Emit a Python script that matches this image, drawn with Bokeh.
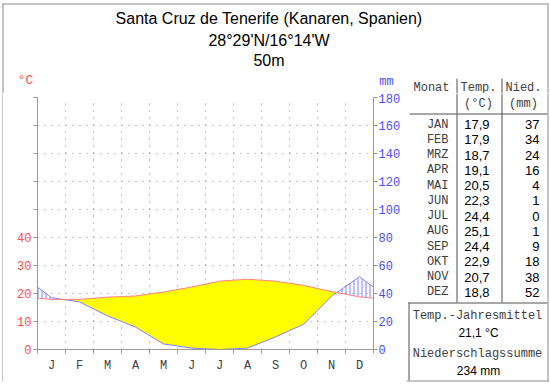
import numpy as np
from bokeh.plotting import figure
from bokeh.models import Range1d, LinearAxis, FixedTicker, CustomJSTickFormatter
from bokeh.layouts import column, row
from bokeh.core.properties import value
from bokeh.embed import file_html
from bokeh.resources import INLINE

# ---------------- data ----------------
month_letters = ["J", "F", "M", "A", "M", "J", "J", "A", "S", "O", "N", "D"]
month_abbr = ["JAN", "FEB", "MRZ", "APR", "MAI", "JUN", "JUL", "AUG", "SEP", "OKT", "NOV", "DEZ"]
temps = [17.9, 17.9, 18.7, 19.1, 20.5, 22.3, 24.4, 25.1, 24.4, 22.9, 20.7, 18.8]
precs = [37, 34, 24, 16, 4, 1, 0, 1, 9, 18, 38, 52]
temp_ticks = [0, 10, 20, 30, 40, 50, 60, 70, 80, 90]
prec_ticks = [0, 20, 40, 60, 80, 100, 120, 140, 160, 180]
title_lines = ["Santa Cruz de Tenerife (Kanaren, Spanien)", "28°29'N/16°14'W", "50m"]
table_headers = ["Monat", "Temp.", "(°C)", "Nied.", "(mm)"]
summary_labels = ["Temp.-Jahresmittel", "Niederschlagssumme"]

# ---------------- style / layout constants ----------------
W, H = 550, 384
HH = 93          # height of the heading strip
XT = 406         # x where the table strip begins
XL = 3           # width of the left border strip
YB = 380         # y where the bottom border strip begins (chart column)
MONO = "Liberation Mono"
SANS = "Liberation Sans"
RED = "#ff4d4d"
BLUE = "#4d4dff"
AXIS = "#9a9a9a"
RULE = "#505050"
FRAME = "#8a8a8a"
DARK = "#404040"


def strip(width, height, x0, y0):
    f = figure(width=width, height=height, x_range=Range1d(x0, x0 + width),
               y_range=Range1d(y0 + height, y0), output_backend="svg",
               toolbar_location=None, min_border=0,
               x_axis_location=None, y_axis_location=None)
    f.outline_line_color = None
    f.grid.visible = False
    return f


def texts(f, xs, ys, txt, font=MONO, size="12px", color=DARK, align="center"):
    f.text(x=xs, y=ys, text=txt, text_font=value(font), text_font_size=value(size),
           text_color=color, text_align=align, text_baseline="middle")


def rules(f, x0, y0, x1, y1, color=RULE):
    f.segment(x0=x0, y0=y0, x1=x1, y1=y1, line_color=color, line_width=1)


# ---------------- heading strip ----------------
head = strip(W, HH, 0, 0)
texts(head, [268.5] * 3, [18, 40, 60], title_lines, font=SANS, size="16px", color="black")
texts(head, [25], [80], ["°C"], size="13px", color=RED)
texts(head, [386], [81], ["mm"], size="12px", color=BLUE)
texts(head, [431, 478, 523], [87, 87, 87], [table_headers[0], table_headers[1], table_headers[3]])
rules(head, [456.5, 501.5], [78, 78], [456.5, 501.5], [HH, HH])
rules(head, [2, 2.5, 547.5], [3.5, 3, 3], [548, 2.5, 547.5], [3.5, HH, HH], color=FRAME)

# ---------------- chart ----------------
CH = YB - HH
CW = XT - XL
p = figure(width=CW, height=CH, x_range=Range1d(0, 12), y_range=Range1d(0, 90),
           output_backend="svg", toolbar_location=None,
           min_border_left=37 - XL, min_border_right=XT - 373,
           min_border_top=97 - HH, min_border_bottom=YB - 349)
p.outline_line_color = None
p.background_fill_color = "white"
p.border_fill_color = "white"
p.extra_y_ranges = {"mm": Range1d(0, 180)}

T = np.array(temps, dtype=float)
P2 = np.array(precs, dtype=float) / 2.0
edge_t = (T[-1] + T[0]) / 2
edge_p = (P2[-1] + P2[0]) / 2
x = np.concatenate([[0.0], np.arange(12) + 0.5, [12.0]])
t = np.concatenate([[edge_t], T, [edge_t]])
pp = np.concatenate([[edge_p], P2, [edge_p]])

xs, ts, ps = [x[0]], [t[0]], [pp[0]]
for i in range(len(x) - 1):
    d0 = t[i] - pp[i]
    d1 = t[i + 1] - pp[i + 1]
    if d0 * d1 < 0:
        f = d0 / (d0 - d1)
        xc = x[i] + f * (x[i + 1] - x[i])
        tc = t[i] + f * (t[i + 1] - t[i])
        xs.append(xc); ts.append(tc); ps.append(tc)
    xs.append(x[i + 1]); ts.append(t[i + 1]); ps.append(pp[i + 1])
xs = np.array(xs); ts = np.array(ts); ps = np.array(ps)

p.varea(x=xs, y1=np.minimum(ts, ps), y2=ts, fill_color="#ffff00", fill_alpha=1)
p.varea(x=xs, y1=ts, y2=np.maximum(ts, ps), fill_alpha=0,
        hatch_pattern="|", hatch_color="#8080ff", hatch_scale=4, hatch_weight=1)
p.line(x, pp * 2, y_range_name="mm", line_color="#8080ff", line_width=1)
p.line(x, t, line_color="#ff8080", line_width=1)

p.xaxis.ticker = FixedTicker(ticks=list(np.arange(12) + 0.5), minor_ticks=list(range(13)))
p.xaxis.formatter = CustomJSTickFormatter(args=dict(labels=month_letters),
                                         code="return labels[Math.floor(tick)]")
p.xaxis.major_tick_line_color = None
p.xaxis.minor_tick_out = 4
p.xaxis.minor_tick_in = 0
p.xaxis.minor_tick_line_color = AXIS
p.xaxis.axis_line_color = AXIS
p.xaxis.major_label_text_font = MONO
p.xaxis.major_label_text_font_size = "12px"
p.xaxis.major_label_text_color = DARK
p.xaxis.major_label_standoff = 3

p.yaxis.ticker = FixedTicker(ticks=temp_ticks)
p.yaxis.formatter = CustomJSTickFormatter(code="return tick <= 40 ? tick.toFixed(0) : ''")
p.yaxis.axis_line_color = AXIS
p.yaxis.major_tick_line_color = AXIS
p.yaxis.major_tick_out = 4
p.yaxis.major_tick_in = 0
p.yaxis.minor_tick_line_color = None
p.yaxis.major_label_text_font = MONO
p.yaxis.major_label_text_font_size = "12px"
p.yaxis.major_label_text_color = RED
p.yaxis.major_label_standoff = 2

ra = LinearAxis(y_range_name="mm", ticker=FixedTicker(ticks=prec_ticks))
ra.axis_line_color = AXIS
ra.major_tick_line_color = AXIS
ra.major_tick_out = 4
ra.major_tick_in = 0
ra.minor_tick_line_color = None
ra.major_label_text_font = MONO
ra.major_label_text_font_size = "12px"
ra.major_label_text_color = BLUE
ra.major_label_standoff = 1
p.add_layout(ra, "right")

p.xgrid.ticker = FixedTicker(ticks=list(range(1, 12)))
p.ygrid.ticker = FixedTicker(ticks=temp_ticks[1:])
for g in (p.xgrid, p.ygrid):
    g.grid_line_color = "#8a8a8a"
    g.grid_line_dash = "1 6"
    g.grid_line_width = 1

# ---------------- border strips around the chart ----------------
lstrip = strip(XL, H - HH, 0, HH)
rules(lstrip, [2.5], [HH], [2.5], [381], color=FRAME)
bstrip = strip(CW, H - YB, XL, YB)
rules(bstrip, [XL], [380.5], [XT], [380.5], color=FRAME)

# ---------------- table strip ----------------
tab = strip(W - XT, H - HH, XT, HH)
texts(tab, [478, 523], [103, 103], [table_headers[2], table_headers[4]])
rules(tab, [456.5, 501.5, 409, 408, 408.5], [HH, HH, 113.5, 302.5, 302],
      [456.5, 501.5, 547, 547, 408.5], [302, 302, 113.5, 302.5, 380])
rules(tab, [XT, 547.5], [380.5, HH], [548, 547.5], [380.5, 381], color=FRAME)
row_y = [124 + 15.25 * i for i in range(len(month_abbr))]
texts(tab, [448] * 12, row_y, month_abbr, align="right")
texts(tab, [489] * 12, row_y, [f"{v:.1f}".replace(".", ",") for v in temps],
      font=SANS, size="13px", color="black", align="right")
texts(tab, [539] * 12, row_y, [str(v) for v in precs],
      font=SANS, size="13px", color="black", align="right")
mean_t = sum(temps) / len(temps)
texts(tab, [477, 477], [315, 353], summary_labels)
texts(tab, [478, 478], [332, 370],
      [f"{mean_t:.1f}".replace(".", ",") + " °C", f"{sum(precs)} mm"],
      font=SANS, size="12px", color="black")

layout = column(head, row(lstrip, column(p, bstrip), tab))

open("out.html", "w").write(file_html(layout, INLINE))
